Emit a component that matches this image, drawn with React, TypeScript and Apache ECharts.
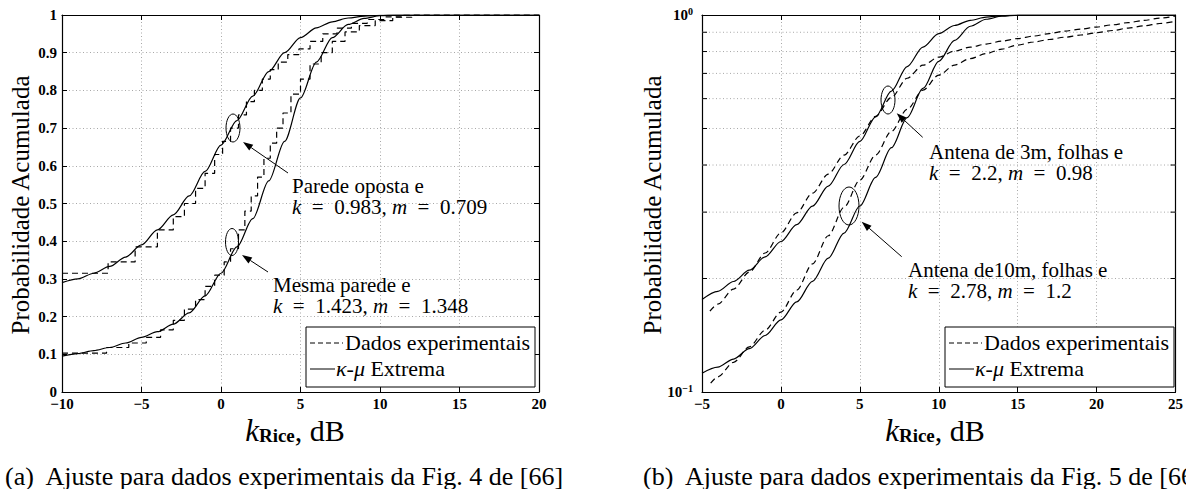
import React, { useEffect, useRef } from "react";
import * as echarts from "echarts";

// ---------- data ----------
const xRangeA = [-10, 20];
const yRangeA = [0, 1];
const xRangeB = [-5, 25];
const yRangeB = [0.1, 1];
const xStep = 5;
const yStepA = 0.1;
const logMinorTicks = [0.2, 0.3, 0.4, 0.5, 0.6, 0.7, 0.8, 0.9];

const legendLabels = ["Dados experimentais", "κ-μ Extrema"];
const captionA = "(a)  Ajuste para dados experimentais da Fig. 4 de [66]";
const captionB = "(b)  Ajuste para dados experimentais da Fig. 5 de [66]";
const yTitle = "Probabilidade Acumulada";

// (a) Parede oposta: experimental (staircase, jump points) and fit
const paredeOpostaDados: [number, number][] = [
  [-10, 0.315], [-7.1, 0.345], [-5.4, 0.385], [-4.0, 0.43], [-3.0, 0.465], [-2.3, 0.5],
  [-1.6, 0.54], [-1.0, 0.58], [-0.4, 0.63], [0.1, 0.665], [0.6, 0.7], [1.1, 0.735],
  [1.6, 0.77], [2.1, 0.8], [2.6, 0.83], [3.1, 0.855], [3.6, 0.875], [4.2, 0.895],
  [4.9, 0.91], [5.6, 0.93], [6.4, 0.95], [7.3, 0.965], [8.2, 0.978], [9.2, 0.988],
  [10.3, 0.995], [11.5, 1.0], [20, 1.0],
];
const paredeOpostaAjuste: [number, number][] = [
  [-10, 0.29], [-9, 0.3], [-8, 0.315], [-7, 0.333], [-6, 0.358], [-5, 0.39], [-4, 0.43],
  [-3, 0.47], [-2, 0.52], [-1, 0.585], [0, 0.655], [1, 0.72], [2, 0.785], [3, 0.85],
  [4, 0.9], [5, 0.94], [6, 0.966], [7, 0.982], [8, 0.992], [9, 0.997], [10, 0.999],
  [11, 1.0], [20, 1.0],
];
// (a) Mesma parede
const mesmaParedeDados: [number, number][] = [
  [-10, 0.103], [-7.2, 0.118], [-5.8, 0.13], [-4.7, 0.145], [-3.8, 0.165], [-3.0, 0.19],
  [-2.3, 0.22], [-1.6, 0.245], [-1.0, 0.28], [-0.4, 0.31], [0.2, 0.345], [0.6, 0.38],
  [1.1, 0.43], [1.5, 0.48], [1.9, 0.52], [2.3, 0.57], [2.7, 0.62], [3.1, 0.66],
  [3.5, 0.7], [3.9, 0.74], [4.4, 0.79], [5.0, 0.83], [5.6, 0.87], [6.3, 0.9],
  [7.0, 0.93], [7.8, 0.955], [8.7, 0.972], [9.7, 0.985], [10.8, 0.994], [12.0, 1.0], [20, 1.0],
];
const mesmaParedeAjuste: [number, number][] = [
  [-10, 0.095], [-9, 0.102], [-8, 0.11], [-7, 0.118], [-6, 0.13], [-5, 0.145], [-4, 0.16],
  [-3, 0.18], [-2, 0.21], [-1, 0.255], [0, 0.315], [1, 0.385], [2, 0.46], [3, 0.56],
  [4, 0.665], [5, 0.78], [6, 0.875], [7, 0.94], [8, 0.975], [9, 0.991], [10, 0.998],
  [11, 1.0], [20, 1.0],
];
// (b) Antena de 3m
const antena3mDados: [number, number][] = [
  [-4.5, 0.1638], [-4, 0.171], [-3, 0.1875], [-2, 0.208], [-1, 0.2337], [0, 0.2643],
  [1, 0.2988], [2, 0.3368], [3, 0.3785], [4, 0.425], [5, 0.4776], [6, 0.5383], [7, 0.6047],
  [8, 0.6796], [9, 0.736], [10, 0.7731], [11, 0.802], [12, 0.8219], [13, 0.8372],
  [14, 0.8527], [15, 0.8659], [16, 0.8793], [17, 0.8928], [18, 0.9066], [19, 0.9177],
  [20, 0.929], [21, 0.9417], [22, 0.9545], [23, 0.9674], [24, 0.9806], [25, 0.9939],
];
const antena3mAjuste: [number, number][] = [
  [-5, 0.176], [-4, 0.185], [-3, 0.1964], [-2, 0.2104], [-1, 0.2283], [0, 0.2507],
  [1, 0.278], [2, 0.3112], [3, 0.3517], [4, 0.4013], [5, 0.462], [6, 0.537], [7, 0.6282],
  [8, 0.73], [9, 0.8222], [10, 0.8923], [11, 0.938], [12, 0.968], [13, 0.9866],
  [14, 0.9957], [15, 0.999], [16, 1.0], [25, 1.0],
];
// (b) Antena de 10m
const antena10mDados: [number, number][] = [
  [-4.45, 0.1055], [-4, 0.1097], [-3, 0.1199], [-2, 0.1318], [-1, 0.1459], [0, 0.1629],
  [1, 0.1864], [2, 0.2187], [3, 0.2597], [4, 0.3091], [5, 0.3649], [6, 0.4252],
  [7, 0.4913], [8, 0.5622], [9, 0.6318], [10, 0.6928], [11, 0.7366], [12, 0.7665],
  [13, 0.7901], [14, 0.8122], [15, 0.8324], [16, 0.8479], [17, 0.861], [18, 0.8733],
  [19, 0.885], [20, 0.8972], [21, 0.9097], [22, 0.9228], [23, 0.9359], [24, 0.9493],
  [25, 0.9627],
];
const antena10mAjuste: [number, number][] = [
  [-5, 0.1122], [-4, 0.1164], [-3, 0.1223], [-2, 0.1304], [-1, 0.1412], [0, 0.1553],
  [1, 0.1734], [2, 0.1966], [3, 0.2265], [4, 0.264], [5, 0.3114], [6, 0.371], [7, 0.4446],
  [8, 0.5343], [9, 0.6385], [10, 0.7533], [11, 0.8567], [12, 0.9337], [13, 0.9745],
  [14, 0.9927], [15, 0.9988], [16, 1.0], [25, 1.0],
];

// ---------- styles ----------
const SERIF = "Liberation Serif, Times New Roman, serif";
const GRID_A = { left: 62, top: 15, width: 477, height: 377 };
const GRID_B = { left: 702, top: 15, width: 478, height: 377 };

const solid = { color: "#000", width: 1.2, type: "solid" as const };
const dashed = { color: "#000", width: 1.2, type: [6, 4] };
const gridDots = { color: "#a8a8a8", width: 1, type: [1, 2.5] };

const minus = (v: number) => String(v).replace("-", "−");

function arrow(tail: number[], tip: number[], len = 10, half = 3.5) {
  const dx = tip[0] - tail[0];
  const dy = tip[1] - tail[1];
  const L = Math.hypot(dx, dy);
  const ux = dx / L;
  const uy = dy / L;
  const bx = tip[0] - ux * len;
  const by = tip[1] - uy * len;
  const px = -uy;
  const py = ux;
  return [
    { type: "line", z: 100, shape: { x1: tail[0], y1: tail[1], x2: bx, y2: by }, style: { stroke: "#000", lineWidth: 1 } },
    {
      type: "polygon", z: 100,
      shape: { points: [[tip[0], tip[1]], [bx + px * half, by + py * half], [bx - px * half, by - py * half]] },
      style: { fill: "#000" },
    },
  ];
}

function txt(x: number, y: number, text: string, size: number, extra: any = {}, elem: any = {}) {
  return {
    type: "text", x, y, z: 100, ...elem,
    style: {
      text, fill: "#000", fontFamily: SERIF, fontSize: size,
      textAlign: "left", textVerticalAlign: "middle", verticalAlign: "middle", ...extra,
    },
  };
}

const NOTE_SIZE = 21;
const NOTE_LH = 21;
const mathRich = { i: { fontStyle: "italic", fontFamily: SERIF, fontSize: NOTE_SIZE, lineHeight: NOTE_LH } };
// two-line annotation: label line + math line, one text element
function note(x: number, yMid: number, label: string, k: string, m: string) {
  return txt(x, yMid, `${label}\n{i|k}\u2002=\u2002${k}, {i|m}\u2002=\u2002${m}`, NOTE_SIZE, {
    rich: mathRich,
    lineHeight: NOTE_LH,
  });
}

function ellipse(cx: number, cy: number, rx: number, ry: number) {
  return { type: "ellipse", z: 100, shape: { cx, cy, rx, ry }, style: { fill: "none", stroke: "#000", lineWidth: 1 } };
}

function legendBox(x: number) {
  const y = 327;
  return [
    { type: "rect", z: 99, shape: { x, y, width: 229, height: 60 }, style: { fill: "#fff", stroke: "#000", lineWidth: 1 } },
    { type: "line", z: 100, shape: { x1: x + 4, y1: 343, x2: x + 37, y2: 343 }, style: { stroke: "#000", lineWidth: 1, lineDash: [5, 3] } },
    txt(x + 39, 342, legendLabels[0], 22),
    { type: "line", z: 100, shape: { x1: x + 4, y1: 369, x2: x + 29, y2: 369 }, style: { stroke: "#000", lineWidth: 1 } },
    txt(x + 30, 368, "{i|κ}-{i|μ} Extrema", 22, { rich: { i: { fontStyle: "italic", fontFamily: SERIF, fontSize: 22 } } }),
  ];
}

function xTitle(cx: number) {
  return txt(cx, 430, "{k|k}{s|Rice}{t|, dB}", 29, {
    textAlign: "center",
    rich: {
      k: { fontStyle: "italic", fontFamily: SERIF, fontSize: 31, lineHeight: 30 },
      s: { fontWeight: "bold", fontFamily: SERIF, fontSize: 19, lineHeight: 20, verticalAlign: "bottom" },
      t: { fontFamily: SERIF, fontSize: 30, lineHeight: 30 },
    },
  });
}

function valueAxes(gridIndex: number, range: number[], pos: "bottom" | "top", labels: boolean) {
  return {
    type: "value", gridIndex, position: pos, min: range[0], max: range[1], interval: xStep,
    axisLine: { show: true, onZero: false, lineStyle: { color: "#000", width: 1.2 } },
    axisTick: { show: true, inside: true, length: 5, lineStyle: { color: "#000" } },
    axisLabel: {
      show: labels, margin: 4, color: "#000", fontFamily: SERIF, fontSize: 15, fontWeight: "bold",
      formatter: (v: number) => minus(v),
    },
    splitLine: { show: labels, lineStyle: gridDots },
  };
}

function buildOption() {
  const lineSeries = (name: string, data: any, xi: number, yi: number, style: any, extra: any = {}) => ({
    type: "line", name, data, xAxisIndex: xi, yAxisIndex: yi, showSymbol: false, symbol: "none",
    lineStyle: style, z: 3, silent: true, ...extra,
  });
  const smooth = { smooth: 0.3, smoothMonotone: "x" };
  return {
    animation: false,
    backgroundColor: "#fff",
    grid: [
      { ...GRID_A, show: false },
      { ...GRID_B, show: false },
    ],
    xAxis: [
      valueAxes(0, xRangeA, "bottom", true),
      valueAxes(0, xRangeA, "top", false),
      valueAxes(1, xRangeB, "bottom", true),
      valueAxes(1, xRangeB, "top", false),
    ],
    yAxis: [
      {
        type: "value", gridIndex: 0, position: "left", min: yRangeA[0], max: yRangeA[1], interval: yStepA,
        axisLine: { show: true, onZero: false, lineStyle: { color: "#000", width: 1.2 } },
        axisTick: { show: true, inside: true, length: 5, lineStyle: { color: "#000" } },
        axisLabel: {
          margin: 5, color: "#000", fontFamily: SERIF, fontSize: 15, fontWeight: "bold",
          formatter: (v: number) => String(Math.round(v * 10) / 10),
        },
        splitLine: { show: true, lineStyle: gridDots },
      },
      {
        type: "value", gridIndex: 0, position: "right", min: yRangeA[0], max: yRangeA[1], interval: yStepA,
        axisLine: { show: true, onZero: false, lineStyle: { color: "#000", width: 1.2 } },
        axisTick: { show: true, inside: true, length: 5, lineStyle: { color: "#000" } },
        axisLabel: { show: false },
        splitLine: { show: false },
      },
      {
        type: "log", logBase: 10, gridIndex: 1, position: "left", min: yRangeB[0], max: yRangeB[1],
        axisLine: { show: true, onZero: false, lineStyle: { color: "#000", width: 1.2 } },
        axisTick: { show: false },
        axisLabel: {
          margin: 9, color: "#000",
          formatter: (v: number) => {
            const e = Math.round(Math.log10(v));
            return `{b|10}{s|${e < 0 ? "−" + -e : e}}`;
          },
          rich: {
            b: { fontFamily: SERIF, fontSize: 15, fontWeight: "bold", lineHeight: 18 },
            s: { fontFamily: SERIF, fontSize: 10, fontWeight: "bold", lineHeight: 10, verticalAlign: "top" },
          },
        },
        splitLine: { show: false },
      },
      {
        type: "log", logBase: 10, gridIndex: 1, position: "right", min: yRangeB[0], max: yRangeB[1],
        axisLine: { show: true, onZero: false, lineStyle: { color: "#000", width: 1.2 } },
        axisTick: { show: false },
        axisLabel: { show: false },
        splitLine: { show: false },
      },
    ],
    series: [
      lineSeries(legendLabels[0], paredeOpostaDados, 0, 0, dashed, { step: "end" }),
      lineSeries(legendLabels[1], paredeOpostaAjuste, 0, 0, solid, smooth),
      lineSeries(legendLabels[0], mesmaParedeDados, 0, 0, dashed, { step: "end" }),
      lineSeries(legendLabels[1], mesmaParedeAjuste, 0, 0, solid, smooth),
      lineSeries(legendLabels[0], antena3mDados, 2, 2, dashed, smooth),
      lineSeries(legendLabels[1], antena3mAjuste, 2, 2, solid, smooth),
      lineSeries(legendLabels[0], antena10mDados, 2, 2, dashed, smooth),
      lineSeries(legendLabels[1], antena10mAjuste, 2, 2, solid, smooth),
      {
        type: "custom", xAxisIndex: 2, yAxisIndex: 2, silent: true, z: 1,
        data: logMinorTicks.map((v) => [xRangeB[0], v]),
        renderItem: (_p: any, api: any) => {
          const v = api.value(1);
          const a = api.coord([xRangeB[0], v]);
          const b = api.coord([xRangeB[1], v]);
          return {
            type: "group",
            children: [
              { type: "line", shape: { x1: a[0], y1: a[1], x2: b[0], y2: b[1] }, style: { stroke: "#a8a8a8", lineWidth: 1, lineDash: [1, 2.5] } },
              { type: "line", shape: { x1: a[0], y1: a[1], x2: a[0] + 5, y2: a[1] }, style: { stroke: "#000", lineWidth: 1 } },
              { type: "line", shape: { x1: b[0] - 5, y1: b[1], x2: b[0], y2: b[1] }, style: { stroke: "#000", lineWidth: 1 } },
            ],
          };
        },
      },
    ],
    graphic: {
      elements: [
        // (a) annotations
        ellipse(233, 128, 7, 14),
        ...arrow([288, 173], [243, 142]),
        note(292, 196, "Parede oposta e", "0.983", "0.709"),
        ellipse(232, 242, 6.5, 13.5),
        ...arrow([268, 272], [242, 255]),
        note(273, 295, "Mesma parede e", "1.423", "1.348"),
        ...legendBox(306),
        // (b) annotations
        ellipse(888, 100, 7, 14),
        ...arrow([922.7, 137.3], [896.7, 113.3]),
        note(929, 162, "Antena de 3m, folhas e", "2.2", "0.98"),
        ellipse(849, 206, 10, 19),
        ...arrow([901.7, 256.7], [861.7, 221.7]),
        note(908, 280.5, "Antena de10m, folhas e", "2.78", "1.2"),
        ...legendBox(945),
        // titles
        txt(20, 205, yTitle, 25, { textAlign: "center" }, { rotation: Math.PI / 2 }),
        txt(652, 205, yTitle, 25, { textAlign: "center" }, { rotation: Math.PI / 2 }),
        xTitle(295),
        xTitle(935),
        txt(5, 476, captionA, 26),
        txt(643, 476, captionB, 26),
      ],
    },
  };
}

export default function App() {
  const ref = useRef<HTMLDivElement | null>(null);
  useEffect(() => {
    if (!ref.current) return;
    const chart = echarts.init(ref.current, undefined, { renderer: "svg" });
    chart.setOption(buildOption() as any);
    return () => chart.dispose();
  }, []);
  return (
    <div
      ref={ref}
      style={{ position: "fixed", left: 0, top: 0, width: 1186, height: 489, background: "#fff" }}
    />
  );
}
